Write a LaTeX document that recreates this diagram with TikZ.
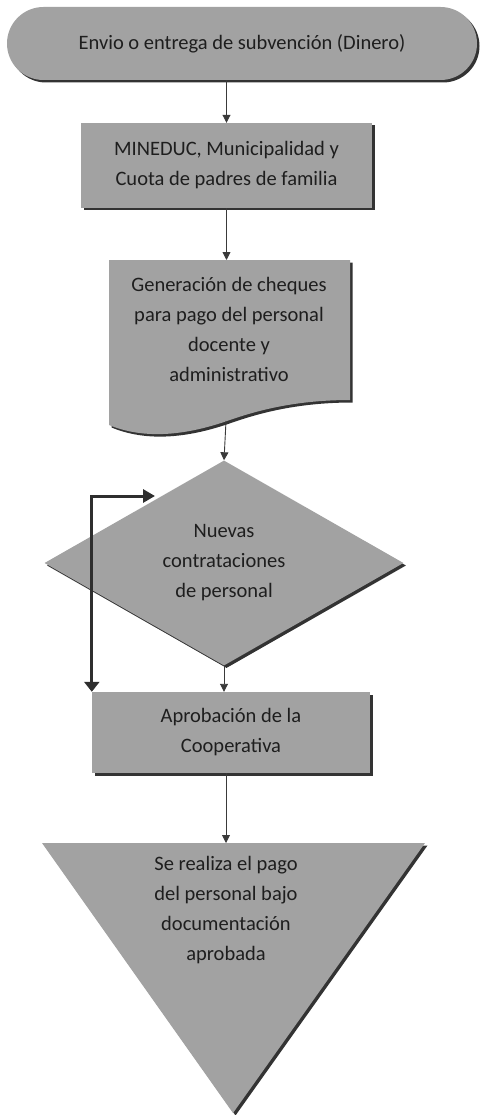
\documentclass[tikz,border=0pt]{standalone}
\usepackage{fontspec}
\setmainfont{Carlito}
\usetikzlibrary{shapes.geometric,shapes.misc,arrows.meta,shadows}
\definecolor{boxgray}{HTML}{A2A2A2}
\definecolor{txtc}{HTML}{1E1E1E}
\definecolor{linec}{HTML}{3A3A3A}
\tikzset{
  shd/.style={drop shadow={shadow xshift=2.5pt,shadow yshift=-2.5pt,fill=black!80,opacity=1}},
  shapebox/.style={fill=boxgray,draw=none,shd,inner sep=0pt,text=txtc,font=\fontsize{20.5}{30}\selectfont,align=center},
  flowtext/.style={inner sep=0pt,text=txtc,font=\fontsize{20.5}{30}\selectfont,align=center},
  arr/.style={draw=linec,line width=0.9pt,-{Triangle[length=8pt,width=8pt]}},
  fbarr/.style={draw=linec!80!black,line width=3pt,{Triangle[length=10pt,width=15pt]}-{Triangle[length=12pt,width=13pt]}}
}
\begin{document}
\begin{tikzpicture}[x=1pt,y=1pt]
\useasboundingbox (0,0) rectangle (482,-1115);
% terminator
\node[shapebox,rounded rectangle,minimum width=470pt,minimum height=73pt] (term) at (242,-43.5) {Envio o entrega de subvención (Dinero)};
% MINEDUC box
\node[shapebox,rectangle,minimum width=291pt,minimum height=85pt] (mineduc) at (226.5,-165.5) {MINEDUC, Municipalidad y\\Cuota de padres de familia};
% document shape
\path[fill=boxgray,shd] (109,-260) -- (350,-260) -- (350,-400)
  .. controls (290,-400) and (250,-413) .. (227,-421)
  .. controls (195,-432) and (150,-442) .. (109,-425) -- cycle;
\node[flowtext] (doc) at (229,-329) {Generación de cheques\\para pago del personal\\docente y\\administrativo};
\coordinate (docb) at (226,-421);
% diamond
\node[shapebox,diamond,aspect=1.75,minimum width=359pt,minimum height=205pt] (dia) at (224,-563) {Nuevas\\contrataciones\\de personal};
% approval box
\node[shapebox,rectangle,minimum width=278pt,minimum height=81pt] (apr) at (231,-732.5) {Aprobación de la\\Cooperativa};
% triangle
\path[fill=boxgray,shd] (42,-843) -- (425,-843) -- (233,-1113) -- cycle;
\coordinate (tritop) at (226,-843);
\node[flowtext] (tri) at (226,-910) {Se realiza el pago\\del personal bajo\\documentación\\aprobada};
% connectors
\draw[arr] (mineduc.north |- term.south) -- (mineduc.north);
\draw[arr] (mineduc.south) -- (mineduc.south |- 0,-260);
\draw[arr] (docb) -- (dia.north);
\draw[arr] (dia.south) -- (dia.south |- apr.north);
\draw[arr] (apr.south -| tritop) -- (tritop);
% feedback arrow
\coordinate (fbend) at (155,-496);
\draw[fbarr] (apr.north west) |- (fbend);
\end{tikzpicture}
\end{document}
